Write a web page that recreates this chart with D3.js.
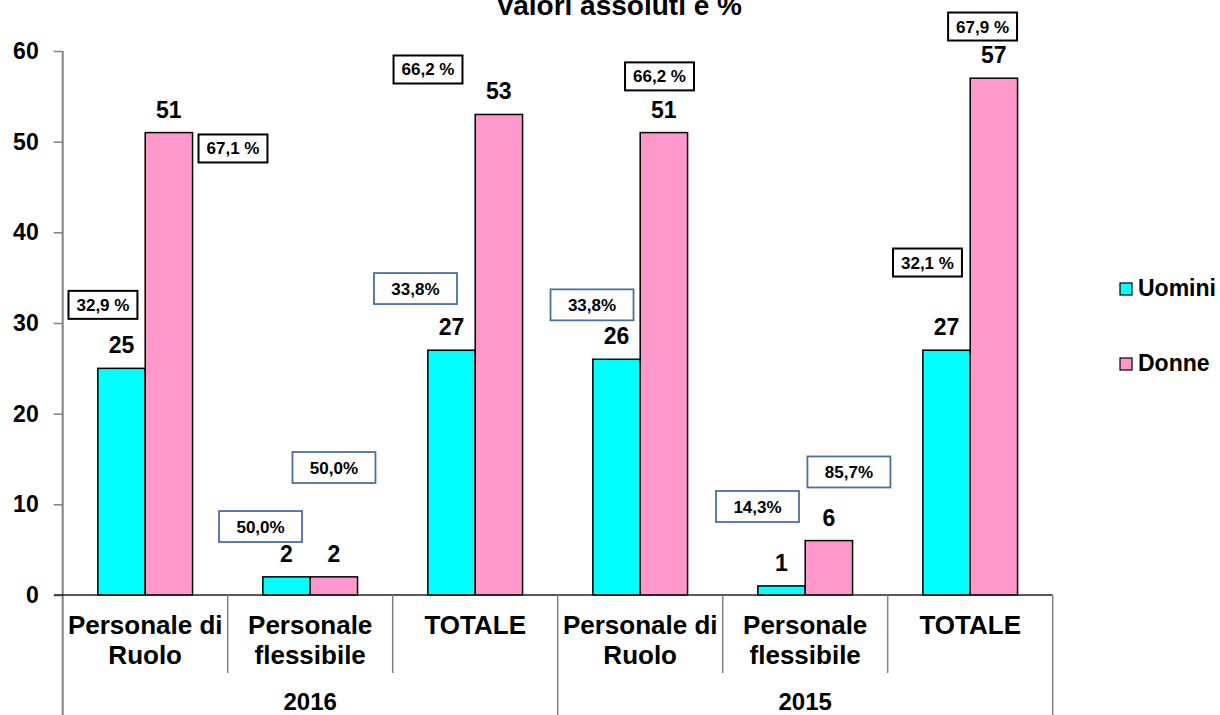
<!DOCTYPE html>
<html>
<head>
<meta charset="utf-8">
<script src="https://cdn.jsdelivr.net/npm/d3@7"></script>
<style>
  body { margin: 0; background: #fff; }
  svg { display: block; font-family: "Liberation Sans", Arial, sans-serif; font-weight: bold; }
</style>
</head>
<body>
<svg width="1220" height="715"></svg>
<script>
// data
var categories = [["Personale di", "Ruolo"], ["Personale", "flessibile"], ["TOTALE"],
                  ["Personale di", "Ruolo"], ["Personale", "flessibile"], ["TOTALE"]];
var years = ["2016", "2015"];
var series = ["Uomini", "Donne"];
var uomini = [25, 2, 27, 26, 1, 27];
var donne = [51, 2, 53, 51, 6, 57];
var uominiPct = ["32,9 %", "50,0%", "33,8%", "33,8%", "14,3%", "32,1 %"];
var donnePct = ["67,1 %", "50,0%", "66,2 %", "66,2 %", "85,7%", "67,9 %"];
var yTicks = [0, 10, 20, 30, 40, 50, 60];

// where each % box sits: fx = fraction of the category band, v = value units
var pctLayout = [
    {s: 0, c: 0, fx: 0.244, v: 32.0, blue: false},
    {s: 1, c: 0, fx: 1.032, v: 49.25, blue: false},
    {s: 0, c: 1, fx: 0.199, v: 7.55, blue: true},
    {s: 1, c: 1, fx: 0.644, v: 14.06, blue: true},
    {s: 0, c: 2, fx: 0.138, v: 33.8, blue: true},
    {s: 1, c: 2, fx: 0.214, v: 57.96, blue: false},
    {s: 0, c: 3, fx: 0.208, v: 32.0, blue: true},
    {s: 1, c: 3, fx: 0.617, v: 57.2, blue: false},
    {s: 0, c: 4, fx: 0.211, v: 9.76, blue: true},
    {s: 1, c: 4, fx: 0.765, v: 13.57, blue: true},
    {s: 0, c: 5, fx: 0.241, v: 36.67, blue: false},
    {s: 1, c: 5, fx: 0.575, v: 62.7, blue: false}
];

var colors = {Uomini: "#00ffff", Donne: "#ff99cc"};
var plotL = 62.7, plotR = 1052.7, plotT = 51, plotB = 595;

var svg = d3.select("svg");

var x0 = d3.scaleBand().domain(d3.range(categories.length)).range([plotL, plotR]);
var bw = x0.bandwidth();
var x1 = d3.scaleBand().domain(series).range([bw * 0.213, bw * 0.787]);
var y = d3.scaleLinear().domain([0, 60]).range([plotB, plotT]);

// title (cut off at top as in the original)
svg.append("text")
    .attr("x", 619).attr("y", 15)
    .attr("text-anchor", "middle")
    .attr("font-size", 28)
    .text("Valori assoluti e %");

// y axis
var yAxis = svg.append("g")
    .attr("transform", "translate(" + plotL + ",0)")
    .call(d3.axisLeft(y).tickValues(yTicks).tickSize(9).tickPadding(15));
yAxis.select(".domain").remove();
yAxis.selectAll(".tick line").attr("stroke", "#808080").attr("stroke-width", 1.5);
yAxis.selectAll(".tick text")
    .attr("font-size", 23)
    .attr("font-family", "Liberation Sans, Arial, sans-serif")
    .attr("font-weight", "bold")
    .attr("fill", "#000");
svg.append("line")
    .attr("x1", plotL).attr("x2", plotL)
    .attr("y1", y(60)).attr("y2", 715)
    .attr("stroke", "#808080").attr("stroke-width", 2);

// bars
var groups = svg.selectAll("g.cat")
    .data(categories)
    .enter().append("g")
    .attr("class", "cat")
    .attr("transform", function (d, i) { return "translate(" + x0(i) + ",0)"; });

groups.selectAll("rect")
    .data(function (d, i) {
        return [{s: "Uomini", v: uomini[i]}, {s: "Donne", v: donne[i]}];
    })
    .enter().append("rect")
    .attr("x", function (d) { return x1(d.s); })
    .attr("y", function (d) { return y(d.v); })
    .attr("width", x1.bandwidth())
    .attr("height", function (d) { return y(0) - y(d.v); })
    .attr("fill", function (d) { return colors[d.s]; })
    .attr("stroke", "#000")
    .attr("stroke-width", 1.5);

groups.selectAll("text.val")
    .data(function (d, i) {
        return [{s: "Uomini", v: uomini[i]}, {s: "Donne", v: donne[i]}];
    })
    .enter().append("text")
    .attr("class", "val")
    .attr("x", function (d) { return x1(d.s) + x1.bandwidth() / 2; })
    .attr("y", function (d) { return y(d.v) - 15; })
    .attr("text-anchor", "middle")
    .attr("font-size", 23)
    .text(function (d) { return d.v; });

// x axis line
svg.append("line")
    .attr("x1", 54).attr("x2", plotR)
    .attr("y1", plotB).attr("y2", plotB)
    .attr("stroke", "#222").attr("stroke-width", 1.5);

// category dividers
d3.range(1, categories.length).forEach(function (i) {
    if (i === 3) return;
    svg.append("line")
        .attr("x1", x0(i)).attr("x2", x0(i))
        .attr("y1", plotB).attr("y2", 673)
        .attr("stroke", "#808080").attr("stroke-width", 1.5);
});
[3, 6].forEach(function (i) {
    var xx = i === 6 ? plotR : x0(i);
    svg.append("line")
        .attr("x1", xx).attr("x2", xx)
        .attr("y1", plotB).attr("y2", 715)
        .attr("stroke", "#808080").attr("stroke-width", 1.5);
});

// category labels
categories.forEach(function (lines, i) {
    var t = svg.append("text")
        .attr("text-anchor", "middle")
        .attr("font-size", 26);
    lines.forEach(function (l, k) {
        t.append("tspan")
            .attr("x", x0(i) + bw / 2)
            .attr("y", 634 + k * 30)
            .text(l);
    });
});

// year labels
years.forEach(function (yr, g) {
    svg.append("text")
        .attr("x", x0(g * 3) + bw * 1.5)
        .attr("y", 710)
        .attr("text-anchor", "middle")
        .attr("font-size", 24)
        .text(yr);
});

// percent boxes
pctLayout.forEach(function (p) {
    var txt = p.s === 0 ? uominiPct[p.c] : donnePct[p.c];
    var cx = x0(p.c) + p.fx * bw;
    var cy = y(p.v);
    var g = svg.append("g");
    var rect = g.append("rect");
    var t = g.append("text")
        .attr("x", cx).attr("y", cy + 6)
        .attr("text-anchor", "middle")
        .attr("font-size", 17)
        .text(txt);
    var w = p.blue ? 83 : t.node().getComputedTextLength() + 16;
    var h = p.blue ? 31 : 28;
    rect.attr("x", cx - w / 2).attr("y", cy - h / 2)
        .attr("width", w).attr("height", h)
        .attr("fill", "#fff")
        .attr("stroke", p.blue ? "#4a70a0" : "#000")
        .attr("stroke-width", p.blue ? 1.8 : 2);
});

// legend
series.forEach(function (s, i) {
    var ly = 283 + i * 75;
    svg.append("rect")
        .attr("x", 1120).attr("y", ly)
        .attr("width", 12).attr("height", 12)
        .attr("fill", colors[s])
        .attr("stroke", "#000").attr("stroke-width", 1.2);
    svg.append("text")
        .attr("x", 1138).attr("y", ly + 13)
        .attr("font-size", 23)
        .text(s);
});
</script>
</body>
</html>
